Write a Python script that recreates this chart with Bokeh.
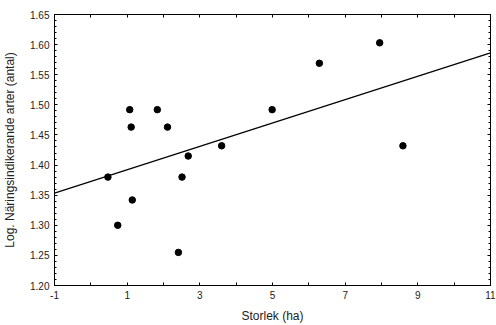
from bokeh.plotting import figure
from bokeh.models import FixedTicker, LinearAxis, Range1d, PrintfTickFormatter, CustomJSTickFormatter
from bokeh.embed import file_html
from bokeh.resources import INLINE

# Data
storlek_ha = [0.47, 0.74, 1.07, 1.11, 1.14, 1.83, 2.11, 2.41, 2.51, 2.68, 3.60, 4.99, 6.29, 7.95, 8.59]
log_arter = [1.380, 1.300, 1.492, 1.463, 1.342, 1.492, 1.463, 1.255, 1.380, 1.415, 1.432, 1.492, 1.569, 1.603, 1.432]

fit_intercept = 1.3727
fit_slope = 0.01942
fit_x = [-1, 11]

x_major = [-1, 1, 3, 5, 7, 9, 11]
x_minor = [0, 2, 4, 6, 8, 10]
y_major = [1.20, 1.25, 1.30, 1.35, 1.40, 1.45, 1.50, 1.55, 1.60, 1.65]
y_minor = [round(1.20 + 0.01 * i, 2) for i in range(46)]

FONT = "Liberation Sans"

p = figure(width=496, height=325, output_backend="svg", toolbar_location=None,
           x_range=Range1d(-1, 11), y_range=Range1d(1.20, 1.65),
           min_border_left=54, min_border_right=6, min_border_top=14, min_border_bottom=37)
p.background_fill_color = "white"
p.border_fill_color = "white"
p.grid.visible = False
p.outline_line_color = "black"
p.outline_line_width = 1

fit_y = [fit_intercept + fit_slope * x for x in fit_x]
p.line(fit_x, fit_y, line_color="black", line_width=1.2)
p.scatter(storlek_ha, log_arter, size=6.5, marker="circle", fill_color="black", line_color="black")

def style(ax, ticks, minor, show_labels):
    ax.ticker = FixedTicker(ticks=ticks, minor_ticks=minor)
    ax.axis_line_color = "black"
    ax.major_tick_line_color = "black"
    ax.minor_tick_line_color = "black"
    ax.major_tick_out = 0
    ax.minor_tick_out = 0
    ax.major_label_text_font = FONT
    ax.axis_label_text_font = FONT
    ax.axis_label_text_font_style = "normal"
    ax.axis_label_text_color = "#222222"
    ax.major_label_text_color = "#222222"
    if not show_labels:
        ax.formatter = CustomJSTickFormatter(code="return '';")
        ax.major_label_standoff = 0

xa = p.xaxis[0]
style(xa, x_major, x_minor, True)
xa.formatter = PrintfTickFormatter(format="%d")
xa.major_tick_in = 3
xa.minor_tick_in = 3
xa.major_label_text_font_size = "10px"
xa.major_label_standoff = 5
xa.axis_label = "Storlek (ha)"
xa.axis_label_text_font_size = "12px"
xa.axis_label_standoff = 7

ya = p.yaxis[0]
style(ya, y_major, y_minor, True)
ya.formatter = PrintfTickFormatter(format="%.2f")
ya.major_tick_in = 3
ya.minor_tick_in = 2
ya.major_label_text_font_size = "10px"
ya.major_label_standoff = 5
ya.axis_label = "Log. Näringsindikerande arter (antal)"
ya.axis_label_text_font_size = "12px"
ya.axis_label_standoff = 10

top = LinearAxis()
style(top, x_major, x_minor, False)
top.major_tick_in = 3
top.minor_tick_in = 3
p.add_layout(top, "above")

right = LinearAxis()
style(right, y_major, y_minor, False)
right.major_tick_in = 3
right.minor_tick_in = 2
p.add_layout(right, "right")

open("out.html", "w").write(file_html(p, INLINE))
